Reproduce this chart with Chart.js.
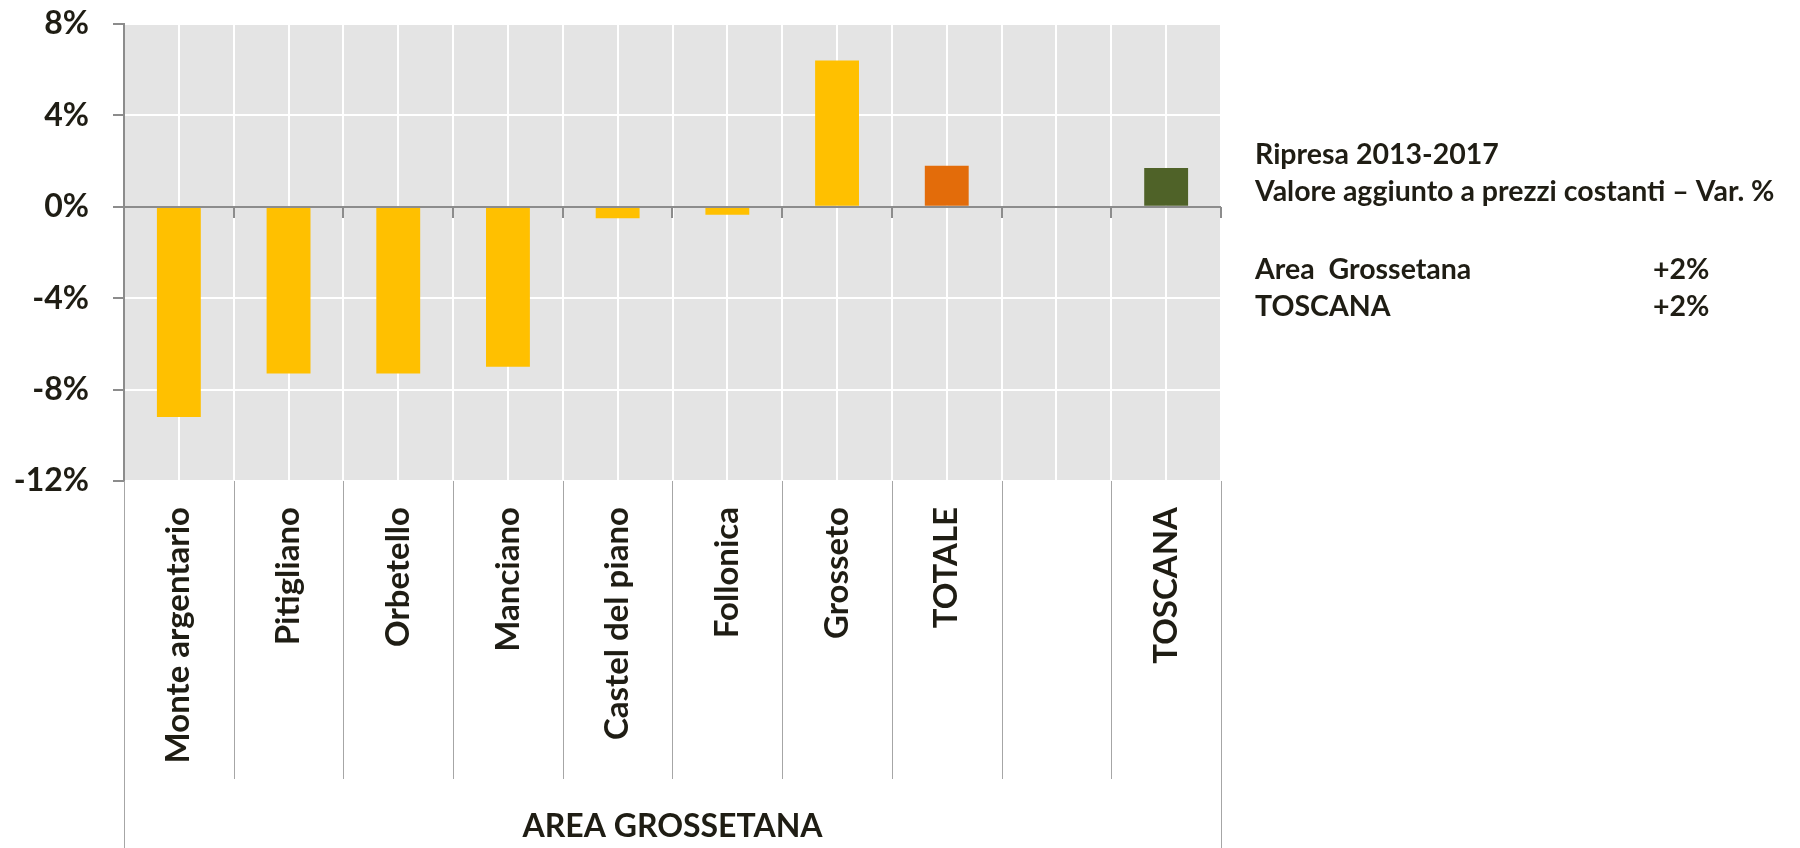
<!DOCTYPE html>
<html lang="it">
<head>
  <meta charset="UTF-8">
  <title>Ripresa 2013-2017 - Area Grossetana</title>
  <script src="https://cdn.jsdelivr.net/npm/chart.js@4.4.1/dist/chart.umd.min.js"></script>
  <style>
    body { margin: 0; background: #fff; }
  </style>
</head>
<body>
<canvas id="myChart" width="1800" height="848"></canvas>
<script>
    // data
    const categories = ['Monte argentario', 'Pitigliano', 'Orbetello', 'Manciano', 'Castel del piano', 'Follonica', 'Grosseto', 'TOTALE', '', 'TOSCANA'];
    const variation = [-9.2, -7.3, -7.3, -7.0, -0.5, -0.35, 6.4, 1.8, null, 1.7];
    const barColors = ['#FFC000', '#FFC000', '#FFC000', '#FFC000', '#FFC000', '#FFC000', '#FFC000', '#E36C0A', '#FFC000', '#4F6228'];
    const groupLabel = 'AREA GROSSETANA';
    const noteTitle = ['Ripresa 2013-2017', 'Valore aggiunto a prezzi costanti \u2013 Var. %'];
    const noteRows = ['Area  Grossetana', 'TOSCANA'];
    const noteValues = ['+2%', '+2%'];

    const textColor = '#1F1D14';
    const axisGrey = '#8C8C8C';
    const heavy = 'bold';

    const chart_extras = {
        id: 'chart_extras',
        beforeDraw: (chart) => {
            const a = chart.chartArea;
            const ctx = chart.ctx;
            ctx.save();
            ctx.fillStyle = '#E4E4E4';
            ctx.fillRect(a.left, a.top, a.right - a.left, a.bottom - a.top);
            ctx.restore();
        },
        beforeDatasetsDraw: (chart) => {
            // white lines through the middle of each category
            const a = chart.chartArea;
            const ctx = chart.ctx;
            const xs = chart.scales.x;
            ctx.save();
            ctx.strokeStyle = '#FFFFFF';
            ctx.lineWidth = 2;
            for (let i = 0; i < categories.length; i++) {
                const x = Math.round(xs.getPixelForValue(i));
                ctx.beginPath();
                ctx.moveTo(x, a.top);
                ctx.lineTo(x, a.bottom);
                ctx.stroke();
            }
            ctx.restore();
        },
        afterDatasetsDraw: (chart) => {
            const a = chart.chartArea;
            const ctx = chart.ctx;
            const xs = chart.scales.x;
            const ys = chart.scales.y;
            const band = xs.getPixelForValue(1) - xs.getPixelForValue(0);
            const y0 = Math.round(ys.getPixelForValue(0));
            ctx.save();
            // axis across zero
            ctx.strokeStyle = axisGrey;
            ctx.lineWidth = 2;
            ctx.beginPath();
            ctx.moveTo(a.left, y0);
            ctx.lineTo(a.right, y0);
            ctx.stroke();
            for (let i = 0; i <= categories.length; i++) {
                const x = Math.round(xs.getPixelForValue(0) - band / 2 + i * band);
                ctx.beginPath();
                ctx.moveTo(x, y0);
                ctx.lineTo(x, y0 + 11);
                ctx.stroke();
            }
            // dividers under the axis
            ctx.lineWidth = 1;
            ctx.strokeStyle = '#A6A6A6';
            for (let i = 0; i <= categories.length; i++) {
                const x = Math.round(xs.getPixelForValue(0) - band / 2 + i * band) + 0.5;
                const outer = (i === 0 || i === categories.length);
                ctx.beginPath();
                ctx.moveTo(x, a.bottom);
                ctx.lineTo(x, outer ? chart.height : 779);
                ctx.stroke();
            }
            // note on the right
            ctx.fillStyle = textColor;
            ctx.font = heavy + ' 28.5px Lato';
            ctx.textBaseline = 'middle';
            ctx.textAlign = 'left';
            ctx.fillText(noteTitle[0], 1255, 155);
            ctx.fillText(noteTitle[1], 1255, 192);
            ctx.fillText(noteRows[0], 1255, 270);
            ctx.fillText(noteRows[1], 1255, 307);
            ctx.fillText(noteValues[0], 1653, 270);
            ctx.fillText(noteValues[1], 1653, 307);
            ctx.restore();
        }
    };

    var ctx = document.getElementById("myChart");
    var myChart = new Chart(ctx, {
        type: 'bar',
        data: {
          labels: categories,
          datasets: [{
            label: 'Var. %',
            data: variation,
            backgroundColor: barColors,
            categoryPercentage: 1,
            barPercentage: 0.4
          }]
        },
        plugins: [chart_extras],
        options: {
          responsive: false,
          animation: false,
          devicePixelRatio: 1,
          layout: { padding: { top: 24, right: 579, left: 0, bottom: 0 } },
          plugins: {
            legend: { display: false },
            tooltip: { enabled: false }
          },
          scales: {
            x: {
              grid: { color: '#FFFFFF', lineWidth: 2, offset: true, drawTicks: false },
              border: { display: false },
              ticks: {
                color: textColor,
                font: { family: 'Lato', weight: heavy, size: 33 },
                minRotation: 90,
                maxRotation: 90,
                autoSkip: false,
                padding: 26
              },
              title: {
                display: true,
                text: groupLabel,
                color: textColor,
                font: { family: 'Lato', weight: heavy, size: 32 },
                padding: { top: 0, bottom: 2 }
              },
              afterFit: (scale) => {
                scale.height = 367;
                scale.paddingTop = 0;
                scale.paddingBottom = 0;
              }
            },
            y: {
              min: -12,
              max: 8,
              grid: { color: '#FFFFFF', lineWidth: 2, tickColor: axisGrey, tickLength: 11, tickWidth: 2 },
              border: { color: axisGrey, width: 2 },
              ticks: {
                stepSize: 4,
                color: textColor,
                font: { family: 'Lato', weight: heavy, size: 32 },
                padding: 24,
                callback: (v) => v + '%'
              },
              afterFit: (scale) => {
                scale.width = 124;
                scale.paddingTop = 0;
                scale.paddingBottom = 0;
              }
            }
          }
        }
    });
</script>
</body>
</html>
